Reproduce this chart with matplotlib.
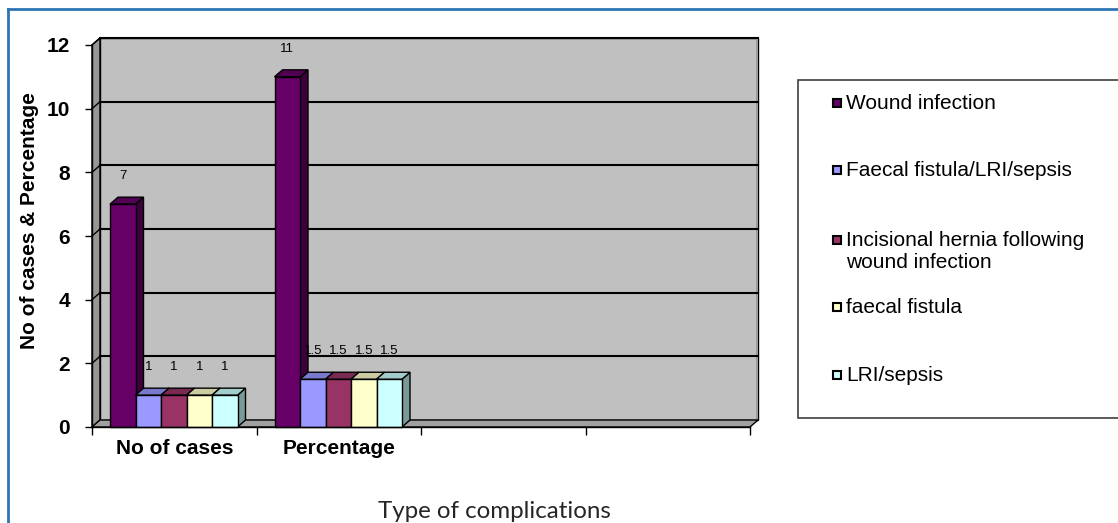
import matplotlib
matplotlib.use("Agg")
import matplotlib.pyplot as plt
from matplotlib.patches import Polygon, Rectangle
from matplotlib.lines import Line2D

# ---- data -------------------------------------------------------------
categories = ["No of cases", "Percentage", "", ""]
series_names = [
    "Wound infection",
    "Faecal fistula/LRI/sepsis",
    "Incisional hernia following\nwound infection",
    "faecal fistula",
    "LRI/sepsis",
]
no_of_cases = [7, 1, 1, 1, 1]
percentage = [11, 1.5, 1.5, 1.5, 1.5]
values = [no_of_cases, percentage]
value_labels = [["7", "1", "1", "1", "1"], ["11", "1.5", "1.5", "1.5", "1.5"]]
yticks = [0, 2, 4, 6, 8, 10, 12]

front_colors = ["#660066", "#9999FF", "#993366", "#FFFFCC", "#CCFFFF"]
top_colors = ["#520052", "#7A7ACC", "#7A2952", "#CCCCA3", "#A3CCCC"]
side_colors = ["#3D003D", "#5C5C99", "#5C1F3D", "#99997A", "#7A9999"]

W, H = 1118, 523
fig = plt.figure(figsize=(W / 100, H / 100), dpi=100)

def px(x, y):
    return x / W, 1 - y / H

# front plane of the 3-D box: x 92..750 px, y 45..427 px
left, top = px(92, 45)
right, bottom = px(750, 427)
ax = fig.add_axes([left, bottom, right - left, top - bottom])
ax.set_xlim(0, 4)
ax.set_ylim(0, 12)
ax.patch.set_visible(False)

unit_x = (750 - 92) / 4.0
unit_y = (427 - 45) / 12.0
dx = 8 / unit_x
dy = 7 / unit_y

# walls and floor
ax.add_patch(Polygon([(0, 0), (dx, dy), (dx, 12 + dy), (0, 12)], closed=True,
                     facecolor="#969696", edgecolor="black", lw=1, zorder=1, clip_on=False))
ax.add_patch(Polygon([(dx, dy), (4 + dx, dy), (4 + dx, 12 + dy), (dx, 12 + dy)], closed=True,
                     facecolor="#C0C0C0", edgecolor="black", lw=1, zorder=1, clip_on=False))
ax.add_patch(Polygon([(0, 0), (4, 0), (4 + dx, dy), (dx, dy)], closed=True,
                     facecolor="#A0A0A0", edgecolor="black", lw=1, zorder=1.5, clip_on=False))
ax.add_patch(Polygon([(4 + dx - 0.012, dy), (4 + dx, dy), (4 + dx, 12 + dy), (4 + dx - 0.012, 12 + dy)],
                     closed=True, facecolor="#9A9A9A", edgecolor="none", zorder=1.2, clip_on=False))

# gridlines on back and side walls
for yv in yticks[1:]:
    ax.plot([dx, 4 + dx], [yv + dy, yv + dy], color="black", lw=1.5, zorder=2, clip_on=False)
    ax.plot([0, dx], [yv, yv + dy], color="black", lw=1.0, zorder=2, clip_on=False)

# 3-D columns
w = 25.5 / unit_x
start = 18 / unit_x
z = 3
for i, vals in enumerate(values):
    for j, v in enumerate(vals):
        x0 = i + start + j * w
        ax.add_patch(Polygon([(x0 + w, 0), (x0 + w + dx, dy), (x0 + w + dx, v + dy), (x0 + w, v)],
                             closed=True, facecolor=side_colors[j], edgecolor="black", lw=1,
                             zorder=z, clip_on=False))
        ax.add_patch(Polygon([(x0, v), (x0 + w, v), (x0 + w + dx, v + dy), (x0 + dx, v + dy)],
                             closed=True, facecolor=top_colors[j], edgecolor="black", lw=1,
                             zorder=z, clip_on=False))
        ax.bar(x0, v, width=w, align="edge", color=front_colors[j], edgecolor="black",
               lw=1, zorder=z + 0.5, clip_on=False)
        ax.text(x0 + w / 2, v + 0.89, value_labels[i][j], ha="center", va="center",
                fontsize=9.5, family="Liberation Sans", color="black", zorder=10)
        z += 1

# axes styling
for s in ["top", "right"]:
    ax.spines[s].set_visible(False)
ax.spines["left"].set_zorder(20)
ax.spines["bottom"].set_zorder(20)
ax.spines["left"].set_linewidth(1.0)
ax.spines["bottom"].set_linewidth(1.0)
ax.set_yticks(yticks)
ax.set_yticklabels([str(t) for t in yticks], fontsize=15, fontweight="bold",
                   family="Liberation Sans")
ax.tick_params(axis="y", direction="out", length=5, width=1, pad=11)
ax.set_xticks([0, 1, 2, 3, 4])
ax.set_xticklabels([])
ax.tick_params(axis="x", which="major", direction="out", length=6, width=1)
ax.set_xticks([0.5, 1.5, 2.5, 3.5], minor=True)
ax.set_xticklabels(categories, minor=True, fontsize=15, fontweight="bold",
                   family="Liberation Sans")
ax.tick_params(axis="x", which="minor", length=0, pad=9)

fig.text(*px(30, 221), "No of cases & Percentage", rotation=90, ha="center", va="center",
         fontsize=15, fontweight="bold", family="Liberation Sans")
fig.text(*px(494, 511), "Type of complications", ha="center", va="center",
         fontsize=17.4, family="Lato", color="#262626")

# legend box
lx0, ly0 = px(798, 418)
lx1, ly1 = px(1124, 80)
fig.patches.append(Rectangle((lx0, ly0), lx1 - lx0, ly1 - ly0, transform=fig.transFigure,
                             facecolor="white", edgecolor="#404040", lw=1.2))
entry_y = [103, 170, 240, 307, 375]
for name, col, yy in zip(series_names, front_colors, entry_y):
    sx, sy = px(833, yy + 4)
    fig.patches.append(Rectangle((sx, sy), 8 / W, 8 / H, transform=fig.transFigure,
                                 facecolor=col, edgecolor="black", lw=1.5))
    fig.text(*px(846, yy - 9), name, ha="left", va="top", fontsize=15,
             family="Liberation Sans", linespacing=1.2)

# outer frame
fig.add_artist(Line2D([px(8, 0)[0], 1], [px(0, 9)[1]] * 2, transform=fig.transFigure,
                      color="#2E75B6", lw=2))
fig.add_artist(Line2D([px(8, 0)[0]] * 2, [0, px(0, 9)[1]], transform=fig.transFigure,
                      color="#2E75B6", lw=2))

fig.savefig("out.png", dpi=100)
